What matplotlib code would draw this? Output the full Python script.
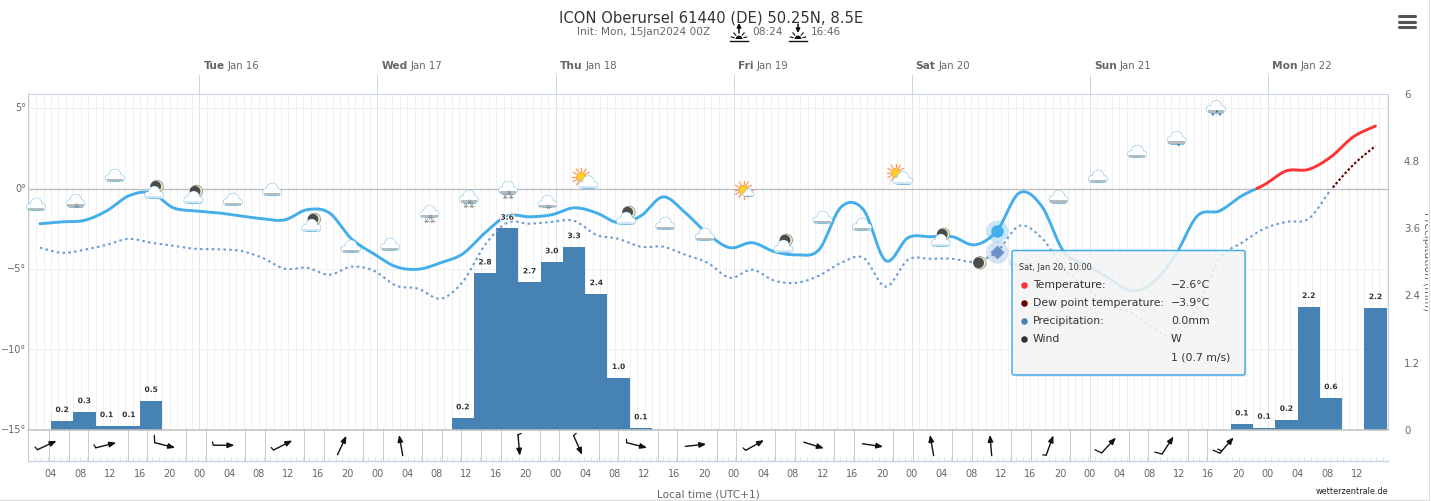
import numpy as np
import matplotlib
matplotlib.use("Agg")
import matplotlib.pyplot as plt
import matplotlib.patheffects as pe
from matplotlib.patches import Circle, Rectangle, FancyBboxPatch, Wedge
from matplotlib.lines import Line2D
from matplotlib.offsetbox import AnnotationBbox, DrawingArea
from matplotlib.transforms import offset_copy, blended_transform_factory

# ---------- data ----------
hours = 2.5 + 3 * np.arange(61)
temperature = [-2.17, -2.05, -1.96, -1.37, -0.43, -0.25, -1.18, -1.37, -1.49, -1.68, -1.86, -1.93, -1.30,
               -1.49, -3.11, -4.04, -4.84, -5.00, -4.60, -4.04, -2.73, -1.68, -1.74, -1.61, -1.18, -1.49,
               -2.11, -1.68, -0.50, -1.49, -2.80, -3.66, -3.35, -3.91, -4.10, -3.79, -1.12, -1.30, -4.47,
               -3.04, -2.98, -2.98, -3.48, -2.60, -0.25, -1.06, -3.91, -4.72, -5.53, -6.34, -5.84, -4.16,
               -1.68, -1.37, -0.43, 0.25, 1.12, 1.21, 1.99, 3.23, 3.91]
dewpoint = [-3.66, -3.98, -3.79, -3.48, -3.11, -3.35, -3.54, -3.73, -3.76, -3.85, -4.29, -4.97, -4.91,
            -5.34, -4.84, -5.09, -6.02, -6.21, -6.83, -5.78, -3.48, -2.11, -2.17, -2.05, -1.99, -2.86,
            -3.11, -3.60, -3.60, -4.10, -4.60, -5.53, -5.03, -5.71, -5.84, -5.40, -4.60, -4.29, -6.09,
            -4.41, -4.35, -4.35, -4.53, -3.91, -2.30, -3.04, -4.91, -6.15, -7.20, -7.70, -8.63, -9.19,
            -7.39, -4.35, -3.35, -2.48, -2.05, -1.86, -0.06, 1.49, 2.67]
precip = [0, 0.16, 0.32, 0.07, 0.07, 0.52] + [0] * 13 + [0.21, 2.80, 3.60, 2.64, 3.00, 3.27, 2.43, 0.93, 0.03] \
         + [0] * 26 + [0.10, 0.04, 0.18, 2.20, 0.57, 0, 2.18]
precip_labels = ["0.2", "0.3", "0.1", "0.1", "0.5", "0.2", "2.8", "3.6", "2.7", "3.0", "3.3", "2.4", "1.0",
                 "0.1", "0.1", "0.1", "0.2", "2.2", "0.6", "2.2"]

wind_hours = 3.46 + 7.95 * np.arange(21)
wind_angle = [25, 14, -14, 0, 27, 65, 100, None, -85, -66, -14, 6, 29, -17, -8, 100, 95, 70, 47, 57, 49]
wind_barb = [1, 1, 3, 1, 1, 0, 0, 0, 1, 1, 1, 0, 1, 0, 0, 0, 0, 1, 3, 3, 4]

icon_hours = 2 + 5.3 * np.arange(31)
icon_temps = [-0.99, -0.75, 0.81, -0.25, -0.56, -0.68, -0.06, -2.30, -3.60, -3.48, -1.43, -0.50, 0.06, -0.81,
              0.43, -1.86, -2.17, -2.86, -0.06, -3.60, -1.80, -2.24, 0.68, -3.23, -4.60, -4.41, -0.50, 0.75,
              2.30, 3.17, 5.09]
icon_kinds = ["cloud", "snow1", "cloud", "moon+", "moon+", "cloud", "cloud", "moon+", "cloud", "cloud", "snow2",
              "snow2", "snow2", "snow1", "sun+", "moon+", "cloud", "cloud", "sunny", "moon+", "cloud", "cloud",
              "sun+", "moon+", "moon", "cloud", "cloud", "cloud", "cloud", "rain1", "rain2"]

day_hours = [24, 48, 72, 96, 120, 144, 168]
day_names = ["Tue", "Wed", "Thu", "Fri", "Sat", "Sun", "Mon"]
day_dates = ["Jan 16", "Jan 17", "Jan 18", "Jan 19", "Jan 20", "Jan 21", "Jan 22"]
hour_ticks = list(range(4, 181, 4))
hour_labels = ["%02d" % (h % 24) for h in hour_ticks]
temp_ticks = [5, 0, -5, -10, -15]
temp_labels = ["5°", "0°", "−5°", "−10°", "−15°"]
precip_ticks = [0, 1.2, 2.4, 3.6, 4.8, 6]
precip_tick_labels = ["0", "1.2", "2.4", "3.6", "4.8", "6"]
marker_index = 43

# ---------- layout ----------
W, H = 1431, 501
plt.rcParams["font.family"] = ["DejaVu Sans"]
fig = plt.figure(figsize=(W / 100, H / 100), dpi=100, facecolor="white")
def axpos(x0, y0, x1, y1):
    return [x0 / W, 1 - y1 / H, (x1 - x0) / W, (y1 - y0) / H]
XLIM = ((28 - 21.3) / 7.42, (1388 - 21.3) / 7.42)
GRID = "#f0f0f0"
TXT = "#666666"
THIN = 0.72

def smooth(x, y, n=12):
    x = np.asarray(x, float); y = np.asarray(y, float)
    xs, ys = [], []
    m = len(x)
    for i in range(m - 1):
        d0 = (y[i + 1] - y[i - 1]) / 2 if i > 0 else y[1] - y[0]
        d1 = (y[i + 2] - y[i]) / 2 if i < m - 2 else y[-1] - y[-2]
        t = np.linspace(0, 1, n, endpoint=False)
        ys.append((2*t**3 - 3*t**2 + 1) * y[i] + (t**3 - 2*t**2 + t) * d0
                  + (-2*t**3 + 3*t**2) * y[i + 1] + (t**3 - t**2) * d1)
        xs.append(x[i] + t * (x[i + 1] - x[i]))
    return np.r_[np.concatenate(xs), x[-1]], np.r_[np.concatenate(ys), y[-1]]

# precipitation axes (below)
axp = fig.add_axes(axpos(28, 93.5, 1388, 430), zorder=1)
axp.set_xlim(*XLIM); axp.set_ylim(0, 6.0)
axp.set_facecolor("white")
for h in np.arange(1, 185):
    axp.axvline(h, color=GRID, lw=THIN, zorder=0)
for h in day_hours:
    axp.axvline(h, color="#e3e3e3", lw=THIN, zorder=0.5)
for s in axp.spines.values():
    s.set_visible(False)
axp.spines["top"].set_visible(True); axp.spines["top"].set_color("#ccd6eb"); axp.spines["top"].set_linewidth(THIN)
axp.spines["right"].set_visible(True); axp.spines["right"].set_color("#ccd0d8"); axp.spines["right"].set_linewidth(THIN)
axp.set_xticks([])
axp.yaxis.tick_right()
axp.set_yticks(precip_ticks); axp.set_yticklabels(precip_tick_labels, fontsize=7.3, color=TXT)
axp.tick_params(axis="y", length=0, pad=11.5)
axp.bar(hours, precip, width=3, color="#4682b4", zorder=2, linewidth=0)
nz = [i for i, p in enumerate(precip) if p > 0]

# temperature axes (above)
ax = fig.add_axes(axpos(28, 93.5, 1388, 430), zorder=2, sharex=axp)
ax.patch.set_alpha(0)
ax.set_ylim(-15, (189 - 93.5) / 16.1)
for t in [5, -5, -10]:
    axp.axhline((t + 15) * 16.1 / 56, color=GRID, lw=THIN, zorder=0.6)
ax.axhline(0, color="#bbbbbb", lw=0.9, zorder=1)
for s in ax.spines.values():
    s.set_visible(False)
ax.spines["left"].set_visible(True); ax.spines["left"].set_color("#c8c8c8"); ax.spines["left"].set_linewidth(THIN)
ax.set_yticks(temp_ticks); ax.set_yticklabels(temp_labels, fontsize=7, color=TXT, va="center")
ax.tick_params(axis="y", length=0, pad=1.5)
ax.tick_params(axis="x", length=0, labelbottom=False)

xs, ts = smooth(hours, temperature)
ax.plot(xs, np.ma.masked_where(ts > 0, ts), color="#44aeea", lw=2.1, zorder=3, solid_capstyle="round")
ax.plot(xs, np.ma.masked_where(ts < 0, ts), color="#ff3333", lw=2.1, zorder=3, solid_capstyle="round")
xd, ds = smooth(hours, dewpoint)
ax.plot(xd, np.ma.masked_where(ds > 0, ds), color="#6a9bd6", lw=1.5, ls=(0, (1.2, 1.6)), zorder=3)
ax.plot(xd, np.ma.masked_where(ds < 0, ds), color="#660000", lw=1.5, ls=(0, (1.2, 1.0)), zorder=3)

for i, lab in zip(nz, precip_labels):
    ax.annotate(lab, (hours[i], precip[i] * 56 / 16.1 - 15), xytext=(0, 7.9), textcoords="offset points",
                ha="center", va="center", fontsize=5.4, fontweight="bold", color="#333333", zorder=7,
                path_effects=[pe.withStroke(linewidth=1.6, foreground="white")])

# highlighted markers
mh = hours[marker_index] - 0.05
ax.scatter([mh], [temperature[marker_index]], s=260, color="#44aeea", alpha=0.28, linewidths=0, zorder=4)
ax.scatter([mh], [temperature[marker_index]], s=80, color="#44aeea", linewidths=0, zorder=5)
ax.scatter([mh], [dewpoint[marker_index]], s=260, color="#5b8fd0", alpha=0.24, linewidths=0, zorder=4)
ax.scatter([mh], [dewpoint[marker_index]], s=50, marker="D", color="#6a93c8", linewidths=0, zorder=5)

# weather icons
S = 0.72
def add_cloud(da, cx=0, cy=0, k=1.08, band="#b4bcbf", edge="#7fc0e2"):
    parts = [(-5.7, -2.2, 3.0), (0.2, 0.8, 5.2), (5.7, -2.2, 3.0)]
    for x, y, r in parts:
        da.add_artist(Circle(((cx + x * k) * S, (cy + y * k) * S), r * k * S, fc=edge, ec=edge, lw=0.7))
    da.add_artist(Rectangle(((cx - 5.7 * k) * S, (cy - 5.2 * k) * S), 11.4 * k * S, 5 * k * S, fc=edge, ec=edge, lw=0.7))
    for x, y, r in parts:
        da.add_artist(Circle(((cx + x * k) * S, (cy + y * k) * S), r * k * S, fc="white", ec="none"))
    da.add_artist(Rectangle(((cx - 5.7 * k) * S, (cy - 5.2 * k) * S), 11.4 * k * S, 5 * k * S, fc="white", ec="none"))
    if band:
        da.add_artist(Rectangle(((cx - 7.6 * k) * S, (cy - 5.2 * k) * S), 15.2 * k * S, 2.2 * k * S, fc=band, ec="none"))

def add_sun(da, cx, cy):
    for a in np.arange(0, 360, 30):
        c, s = np.cos(np.radians(a)), np.sin(np.radians(a))
        da.add_artist(Line2D([(cx + 5.5 * c) * S, (cx + 9 * c) * S], [(cy + 5.5 * s) * S, (cy + 9 * s) * S],
                             color="#ff9a5a", lw=0.9))
    da.add_artist(Circle((cx * S, cy * S), 4.4 * S, fc="#ffd02a", ec="#ffa040", lw=0.7))

def add_moon(da, cx, cy):
    da.add_artist(Circle((cx * S, cy * S), 6.2 * S, fc="#efe8c4", ec="#8a8a80", lw=0.5))
    da.add_artist(Circle(((cx - 1.4) * S, cy * S), 5.4 * S, fc="#4c4c4c", ec="none"))

def add_snow(da, x, y):
    for a in (0, 60, 120):
        c, s = np.cos(np.radians(a)) * 2.2, np.sin(np.radians(a)) * 2.2
        da.add_artist(Line2D([(x - c) * S, (x + c) * S], [(y - s) * S, (y + s) * S], color="#888888", lw=0.5))

for h, t, kind in zip(icon_hours, icon_temps, icon_kinds):
    da = DrawingArea(40 * S, 40 * S, 20 * S, 20 * S)
    if kind == "sun+":
        add_sun(da, -5.5, 5); add_cloud(da, 1.5, -0.5, band="#cfe6f4")
    elif kind == "sunny":
        add_sun(da, -0.5, 0); add_cloud(da, 4.5, -3, k=0.62, band="#dbe8f0")
    elif kind == "moon":
        add_moon(da, 0, 0)
    else:
        if kind == "moon+":
            add_moon(da, 3, 6.5)
        add_cloud(da, band="#cfe6f4" if kind == "moon+" else "#b4bcbf")
        if kind == "snow1":
            add_snow(da, 1, -5)
        if kind == "snow2":
            add_snow(da, -3, -9); add_snow(da, 3, -9); add_snow(da, 1, -5)
        if kind == "rain1":
            da.add_artist(Circle((2 * S, -7 * S), 1.0 * S, fc="#1f6fa8", ec="none"))
        if kind == "rain2":
            for dx, dy in ((-3, -7.5), (4, -7.5), (1, -4.5)):
                da.add_artist(Circle((dx * S, dy * S), 1.0 * S, fc="#1f6fa8", ec="none"))
    ab = AnnotationBbox(da, (h, t), frameon=False, pad=0, box_alignment=(0.5, 0.5), xycoords="data",
                        annotation_clip=False, zorder=6)
    ax.add_artist(ab)

# date labels above the plot
tr = blended_transform_factory(ax.transData, ax.transAxes)
for h, nm, dt in zip(day_hours, day_names, day_dates):
    ax.plot([h, h], [1, 1 + 19 / 336.5], transform=tr, color="#ccd6eb", lw=THIN, clip_on=False, zorder=1)
    t1 = ax.annotate(nm, (h, 1), xycoords=tr, xytext=(2.9, 20), textcoords="offset points", fontsize=7.7,
                     fontweight="bold", color="#666666", ha="left", va="center", annotation_clip=False)
    ax.annotate(dt, xy=(1, 0.5), xycoords=t1, xytext=(2.2, 0), textcoords="offset points", fontsize=7.3,
                color="#666666", ha="left", va="center", annotation_clip=False)

# wind strip
axw = fig.add_axes(axpos(28, 430, 1388, 460.5), zorder=1.5, sharex=axp)
axw.set_ylim(0, 1)
for s in axw.spines.values():
    s.set_visible(False)
axw.spines["top"].set_visible(True); axw.spines["top"].set_color("#c0c0c0"); axw.spines["top"].set_linewidth(1.1)
axw.spines["bottom"].set_visible(True); axw.spines["bottom"].set_color("#c5d3e8"); axw.spines["bottom"].set_linewidth(1.0)
axw.spines["left"].set_visible(True); axw.spines["left"].set_color("#c8c8c8"); axw.spines["left"].set_linewidth(THIN)
sep = 3.73 + 2.646 * np.arange(62)
for i, h in enumerate(sep):
    if (i % 3 != 0 or i in (0, 21)) and h < XLIM[1] and h < 164:
        axw.axvline(h, color="#cccccc", lw=THIN, zorder=1)
for h in np.arange(XLIM[0], XLIM[1], 0.882):
    axw.plot([h, h], [0, 0.1], color="#d5deee", lw=0.55, zorder=1)
axw.set_xticks(hour_ticks); axw.set_xticklabels(hour_labels, fontsize=7, color=TXT)
axw.tick_params(axis="x", length=0, pad=6)
axw.set_yticks([])

def seg(h, p0, p1, **kw):
    axw.annotate("", xy=(h, 0.5), xycoords=offset_copy(axw.transData, fig=fig, x=p1[0], y=p1[1], units="dots"),
                 xytext=(h, 0.5), textcoords=offset_copy(axw.transData, fig=fig, x=p0[0], y=p0[1], units="dots"),
                 annotation_clip=False, zorder=3,
                 arrowprops=dict(color="#111111", shrinkA=0, shrinkB=0, **kw))

for h, a, b in zip(wind_hours, wind_angle, wind_barb):
    if a is None:
        continue
    c, s = np.cos(np.radians(a)), np.sin(np.radians(a))
    L = 10.5
    tail = (-L * c, -L * s)
    seg(h, tail, (L * c, L * s), arrowstyle="-|>,head_length=0.5,head_width=0.2", lw=1.0, mutation_scale=8)
    if b:
        blen = {1: 3.5, 3: 7.5, 4: 7.5}[b]
        bx = -s * 0.95 - c * 0.3; by = c * 0.95 - s * 0.3
        seg(h, tail, (tail[0] + blen * bx, tail[1] + blen * by), arrowstyle="-", lw=0.9)
        if b == 4:
            p0 = (tail[0] + 3 * c, tail[1] + 3 * s)
            seg(h, p0, (p0[0] + 4.5 * bx, p0[1] + 4.5 * by), arrowstyle="-", lw=0.9)

# overlay: title, tooltip, menu, page edge
ov = fig.add_axes([0, 0, 1, 1], zorder=10)
ov.set_xlim(0, W); ov.set_ylim(H, 0); ov.axis("off"); ov.patch.set_alpha(0)
ov.text(711, 18, "ICON Oberursel 61440 (DE) 50.25N, 8.5E", ha="center", va="center", fontsize=10.6, color="#333333")
ov.text(577, 32, "Init: Mon, 15Jan2024 00Z", ha="left", va="center", fontsize=7.6, color="#666666")
ov.text(752, 32, "08:24", ha="left", va="center", fontsize=7.6, color="#666666")
ov.text(811, 32, "16:46", ha="left", va="center", fontsize=7.6, color="#666666")
for cx, up in ((739, True), (798, False)):
    ov.plot([cx - 9, cx + 9], [40.5, 40.5], color="#111111", lw=1.0)
    ov.add_patch(Wedge((cx, 39), 3.4, 180, 360, fc="#111111", ec="none"))
    for a in (15, 50, 130, 165):
        c, s = np.cos(np.radians(a)), np.sin(np.radians(a))
        ov.plot([cx + 5 * c, cx + 8 * c], [39 - 5 * s, 39 - 8 * s], color="#111111", lw=0.8)
    if up:
        ov.annotate("", xy=(cx, 23), xytext=(cx, 33), arrowprops=dict(arrowstyle="-|>", color="#111111", lw=1.1, shrinkA=0, shrinkB=0, mutation_scale=6))
    else:
        ov.annotate("", xy=(cx, 33), xytext=(cx, 24), arrowprops=dict(arrowstyle="-|>", color="#111111", lw=1.1, shrinkA=0, shrinkB=0, mutation_scale=6))
for y in (16, 21.5, 27):
    ov.plot([1399, 1415], [y, y], color="#555555", lw=2.2, solid_capstyle="round")

ov.text(708, 494.5, "Local time (UTC+1)", ha="center", va="center", fontsize=7.6, color="#666666")
ov.text(1388, 492, "wetterzentrale.de", ha="right", va="center", fontsize=5.9, color="#222222")

ov.add_patch(FancyBboxPatch((1014, 253), 232, 124, boxstyle="round,pad=0,rounding_size=2", fc="#000000", alpha=0.07, ec="none"))
ov.add_patch(FancyBboxPatch((1012, 250.5), 233, 124.5, boxstyle="round,pad=0,rounding_size=2", fc="#f7f7f7", alpha=0.86, ec="none"))
ov.add_patch(FancyBboxPatch((1012, 250.5), 233, 124.5, boxstyle="round,pad=0,rounding_size=2", fc="none", ec="#44aeea", lw=1.1))
ov.text(1019, 267.5, "Sat, Jan 20, 10:00", fontsize=5.9, color="#333333", va="center")
rows = [("#ff3333", "Temperature:", "−2.6°C", 285), ("#660000", "Dew point temperature:", "−3.9°C", 303),
        ("#4682b4", "Precipitation:", "0.0mm", 321), ("#333333", "Wind", "W", 339)]
for col, a, b, y in rows:
    ov.scatter([1024], [y], s=22, color=col, linewidths=0)
    ov.text(1033, y, a, fontsize=7.85, color="#333333", va="center")
    ov.text(1171, y, b, fontsize=7.85, color="#333333", va="center")
ov.text(1171, 357, "1 (0.7 m/s)", fontsize=7.85, color="#333333", va="center")

ov.text(1426.5, 262, "Precipitation (mm)", rotation=-90, ha="center", va="center", fontsize=7.6, color="#666666")
ov.add_patch(Rectangle((1428, 0), 3, H, fc="white", ec="none", zorder=5))
ov.plot([1428.5, 1428.5], [0, H], color="#dddddd", lw=THIN, zorder=6)
ov.plot([0, 1428.5], [500, 500], color="#dddddd", lw=1.0, zorder=6)

fig.savefig("out.png", dpi=100)
